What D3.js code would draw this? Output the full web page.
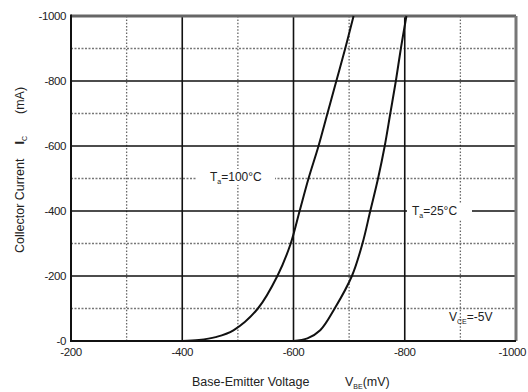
<!doctype html>
<html>
  <head>
    <script src="https://cdnjs.cloudflare.com/ajax/libs/d3/7.8.5/d3.min.js"></script>
    <style>
      body { margin: 0; background: #fff; }
      svg { font-family: "Liberation Sans", Arial, sans-serif; }
      line.major { stroke: #111; stroke-width: 1.6; }
      line.minor-h { stroke: #777; stroke-width: 1.3; stroke-dasharray: 2 1.5; }
      line.minor-v { stroke: #666; stroke-width: 1.3; stroke-dasharray: 1.5 1.8; }
      path.curve { fill: none; stroke: #111; stroke-width: 2; }
      text.tick { font-size: 11.5px; fill: #222; letter-spacing: -0.4px; }
      text.title { font-size: 12.5px; fill: #222; }
      text.note { font-size: 12px; fill: #222; }
    </style>
  </head>
  <body>
    <svg width="528" height="392"></svg>
    <script>
      // Vbe (mV) and Ic (mA), both
      var vbe100 = [-400, -430, -460, -492, -536, -571, -595, -611, -627, -645, -661, -677, -693, -708];
      var ic100  = [0, -3, -12, -33, -100, -200, -300, -400, -500, -600, -700, -800, -900, -1000];
      var vbe25  = [-600, -625, -648, -674, -705, -724, -738, -752, -764, -774, -784, -793, -803];
      var ic25   = [0, -8, -33, -100, -200, -300, -400, -500, -600, -700, -800, -900, -1000];

      var xMajor = [-200, -400, -600, -800, -1000];
      var xMinor = [-300, -500, -700, -900];
      var xLabels = ["-200", "-400", "-600", "-800", "-1000"];
      var yMajor = [0, -200, -400, -600, -800, -1000];
      var yMinor = [-100, -300, -500, -700, -900];
      var yLabels = ["-0", "-200", "-400", "-600", "-800", "-1000"];

      var svg = d3.select("svg");
      var x = d3.scaleLinear().domain([-200, -1000]).range([71, 516]);
      var y = d3.scaleLinear().domain([0, -1000]).range([341, 16]);

      // minor grid
      svg.selectAll("line.minor-h").data(yMinor).enter().append("line")
          .attr("class", "minor-h")
          .attr("x1", x(-200)).attr("x2", x(-1000))
          .attr("y1", d => y(d)).attr("y2", d => y(d));
      svg.selectAll("line.minor-v").data(xMinor).enter().append("line")
          .attr("class", "minor-v")
          .attr("x1", d => x(d)).attr("x2", d => x(d))
          .attr("y1", y(0)).attr("y2", y(-1000));

      // major grid
      svg.selectAll("line.major-h").data(yMajor.slice(1, -1)).enter().append("line")
          .attr("class", "major")
          .attr("x1", x(-200)).attr("x2", x(-1000))
          .attr("y1", d => y(d)).attr("y2", d => y(d));
      svg.selectAll("line.major-v").data(xMajor.slice(1, -1)).enter().append("line")
          .attr("class", "major")
          .attr("x1", d => x(d)).attr("x2", d => x(d))
          .attr("y1", y(0)).attr("y2", y(-1000));

      // frame
      svg.append("line").attr("x1", x(-200)).attr("x2", x(-1000)).attr("y1", y(-1000)).attr("y2", y(-1000))
          .style("stroke", "#666").style("stroke-width", 3);
      svg.append("line").attr("x1", x(-1000)).attr("x2", x(-1000)).attr("y1", y(0)).attr("y2", y(-1000))
          .style("stroke", "#777").style("stroke-width", 3);
      svg.append("line").attr("x1", x(-200)).attr("x2", x(-200)).attr("y1", y(0) + 1).attr("y2", y(-1000) - 1.5)
          .style("stroke", "#111").style("stroke-width", 2);
      svg.append("line").attr("x1", x(-200)).attr("x2", x(-1000)).attr("y1", y(0)).attr("y2", y(0))
          .style("stroke", "#111").style("stroke-width", 2);

      // white boxes behind the curve labels
      svg.append("rect").attr("x", 197).attr("y", 169).attr("width", 78).attr("height", 16).style("fill", "#fff");
      svg.append("rect").attr("x", 407).attr("y", 203).attr("width", 65).attr("height", 16).style("fill", "#fff");

      // curves
      var line = d3.line()
        .x(d => x(d[0]))
        .y(d => y(d[1]))
        .curve(d3.curveCatmullRom.alpha(0.5));
      svg.append("path").attr("class", "curve").attr("d", line(d3.zip(vbe100, ic100)));
      svg.append("path").attr("class", "curve").attr("d", line(d3.zip(vbe25, ic25)));

      // tick labels
      svg.selectAll("text.ytick").data(yMajor).enter().append("text")
          .attr("class", "tick")
          .attr("x", 66).attr("y", d => y(d) + 4)
          .attr("text-anchor", "end")
          .text((d, i) => yLabels[i]);
      svg.selectAll("text.xtick").data(xMajor).enter().append("text")
          .attr("class", "tick")
          .attr("x", (d, i) => i === xMajor.length - 1 ? 526 : x(d))
          .attr("y", 356)
          .attr("text-anchor", (d, i) => i === xMajor.length - 1 ? "end" : "middle")
          .text((d, i) => xLabels[i]);

      // axis titles
      var xt = svg.append("text").attr("class", "title").attr("x", 192).attr("y", 386);
      xt.append("tspan").text("Base-Emitter Voltage");
      xt.append("tspan").attr("x", 345).text("V");
      xt.append("tspan").attr("dy", 3).style("font-size", "7px").text("BE");
      xt.append("tspan").attr("dy", -3).text("(mV)");

      var yt = svg.append("text").attr("class", "title")
          .attr("transform", "translate(24,253) rotate(-90)");
      yt.append("tspan").text("Collector Current");
      yt.append("tspan").attr("dx", 14).style("font-weight", "bold").text("I");
      yt.append("tspan").attr("dy", 3).style("font-size", "7px").text("C");
      yt.append("tspan").attr("dy", -3).attr("dx", 22).text("(mA)");

      // annotations
      function note(tx, ty, main, sub, rest) {
        var t = svg.append("text").attr("class", "note").attr("x", tx).attr("y", ty);
        t.append("tspan").text(main);
        t.append("tspan").attr("dy", 3).style("font-size", "7px").text(sub);
        t.append("tspan").attr("dy", -3).text(rest);
      }
      note(210, 181, "T", "a", "=100°C");
      note(412, 215, "T", "a", "=25°C");
      note(449, 321, "V", "CE", "=-5V");
    </script>
  </body>
</html>
